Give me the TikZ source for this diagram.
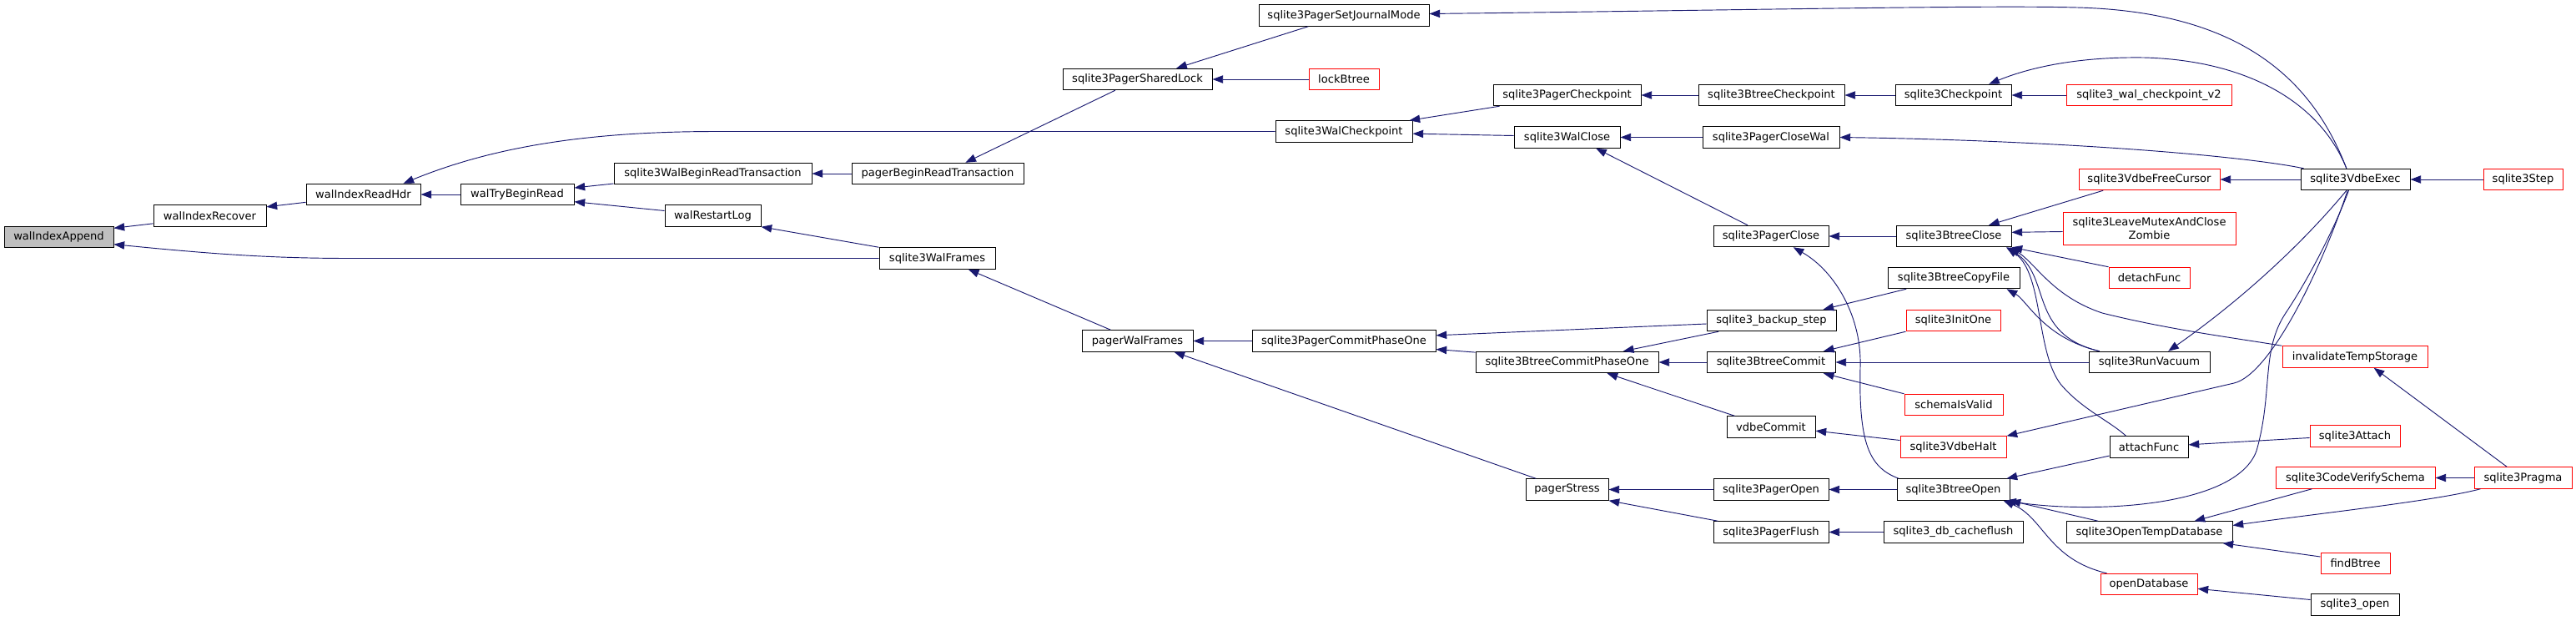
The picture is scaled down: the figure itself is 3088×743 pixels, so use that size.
\documentclass[tikz,border=0pt]{standalone}
\usepackage{fontspec}
\usepackage{xcolor}
\usetikzlibrary{arrows.meta}
\newfontfamily\dvs{DejaVu Sans}
\definecolor{edgeblue}{HTML}{191970}
\definecolor{rootgray}{HTML}{BFBFBF}

\begin{document}
\begin{tikzpicture}[x=0.75pt, y=-0.75pt,
    fn/.style={draw=black, fill=white, line width=0.75pt, minimum height=19.1pt,
               inner sep=0pt, align=center, font=\dvs\fontsize{9.8}{11.5}\selectfont},
    fnred/.style={fn, draw=red},
    fnroot/.style={fn, fill=rootgray},
    callby/.style={<-, draw=edgeblue, line width=0.7pt},
    >={Triangle[length=9.5pt, width=7pt]}]
    \useasboundingbox (0,0) rectangle (3088,743);

    % Functions, one column after the other
    \node[fnroot, minimum width=98.25pt] (wIA) at (70.5,284) {walIndexAppend};
    \node[fn, minimum width=101.25pt] (wIRc) at (251.5,258.5) {walIndexRecover};
    \node[fn, minimum width=102.75pt] (wIRH) at (435.5,233) {walIndexReadHdr};
    \node[fn, minimum width=102pt] (wTBR) at (620,233) {walTryBeginRead};
    \node[fn, minimum width=177.75pt] (sWBRT) at (854.5,208) {sqlite3WalBeginReadTransaction};
    \node[fn, minimum width=86.25pt] (wRL) at (854.5,258.5) {walRestartLog};
    \node[fn, minimum width=154.5pt] (pBRT) at (1124,208) {pagerBeginReadTransaction};
    \node[fn, minimum width=104.25pt] (sWF) at (1123.5,309.5) {sqlite3WalFrames};
    \node[fn, minimum width=134.25pt] (sPSL) at (1363.5,95) {sqlite3PagerSharedLock};
    \node[fn, minimum width=99.75pt] (pWF) at (1363.5,408.5) {pagerWalFrames};
    \node[fn, minimum width=153pt] (sPSJM) at (1611,18.5) {sqlite3PagerSetJournalMode};
    \node[fnred, minimum width=63pt] (lockBtree) at (1611,95) {lockBtree};
    \node[fn, minimum width=123pt] (sWC) at (1611,157.5) {sqlite3WalCheckpoint};
    \node[fn, minimum width=165pt] (sPCPO) at (1611,408.5) {sqlite3PagerCommitPhaseOne};
    \node[fn, minimum width=132.75pt] (sPC) at (1878.5,114) {sqlite3PagerCheckpoint};
    \node[fn, minimum width=95.25pt] (sWCl) at (1878.5,164.5) {sqlite3WalClose};
    \node[fn, minimum width=164.25pt] (sBCPO) at (1878.5,434) {sqlite3BtreeCommitPhaseOne};
    \node[fn, minimum width=74.25pt] (pagerStress) at (1878.5,586.5) {pagerStress};
    \node[fn, minimum width=131.25pt] (sBC) at (2123.5,114) {sqlite3BtreeCheckpoint};
    \node[fn, minimum width=123pt] (sPCW) at (2123,164.5) {sqlite3PagerCloseWal};
    \node[fn, minimum width=103.5pt] (sPCl) at (2123,283) {sqlite3PagerClose};
    \node[fn, minimum width=116.25pt] (sbs) at (2123.5,384) {sqlite3\_backup\_step};
    \node[fn, minimum width=115.5pt] (sBCm) at (2123,434) {sqlite3BtreeCommit};
    \node[fn, minimum width=79.5pt] (vdbeCommit) at (2123,511.5) {vdbeCommit};
    \node[fn, minimum width=103.5pt] (sPO) at (2123,586.5) {sqlite3PagerOpen};
    \node[fn, minimum width=103.5pt] (sPF) at (2123,637.5) {sqlite3PagerFlush};
    \node[fn, minimum width=104.25pt] (sCk) at (2341.5,114) {sqlite3Checkpoint};
    \node[fn, minimum width=103.5pt] (sBCl) at (2342,283) {sqlite3BtreeClose};
    \node[fn, minimum width=118.5pt] (sBCF) at (2342,333) {sqlite3BtreeCopyFile};
    \node[fnred, minimum width=84.75pt] (sInitOne) at (2341.5,384) {sqlite3InitOne};
    \node[fnred, minimum width=88.5pt] (schemaIsValid) at (2342,485) {schemaIsValid};
    \node[fnred, minimum width=95.25pt] (sVH) at (2341.5,535.5) {sqlite3VdbeHalt};
    \node[fn, minimum width=101.25pt] (sBO) at (2341.5,586.5) {sqlite3BtreeOpen};
    \node[fn, minimum width=125.25pt] (sdc) at (2341.5,637.5) {sqlite3\_db\_cacheflush};
    \node[fnred, minimum width=148.5pt] (swcv2) at (2576,114) {sqlite3\_wal\_checkpoint\_v2};
    \node[fnred, minimum width=126.75pt] (sVFC) at (2576.5,215) {sqlite3VdbeFreeCursor};
    \node[fnred, minimum width=155.25pt, minimum height=29.25pt] (sLMACZ) at (2576.5,273.5) {sqlite3LeaveMutexAndClose\\Zombie};
    \node[fnred, minimum width=72.75pt] (detachFunc) at (2576.5,333) {detachFunc};
    \node[fn, minimum width=108.75pt] (sRV) at (2576.5,434) {sqlite3RunVacuum};
    \node[fn, minimum width=70.5pt] (attachFunc) at (2576,535.5) {attachFunc};
    \node[fn, minimum width=149.25pt] (sOTD) at (2576.5,637.5) {sqlite3OpenTempDatabase};
    \node[fnred, minimum width=87pt] (oDB) at (2576,700) {openDatabase};
    \node[fn, minimum width=98.25pt] (sVE) at (2823.5,215) {sqlite3VdbeExec};
    \node[fnred, minimum width=130.5pt] (iTS) at (2823,427.5) {invalidateTempStorage};
    \node[fnred, minimum width=81pt] (sAt) at (2823,522.5) {sqlite3Attach};
    \node[fnred, minimum width=143.25pt] (sCVS) at (2823.5,572.5) {sqlite3CodeVerifySchema};
    \node[fnred, minimum width=62.25pt] (findBtree) at (2823.5,675) {findBtree};
    \node[fn, minimum width=79.5pt] (so) at (2823,724.5) {sqlite3\_open};
    \node[fnred, minimum width=71.25pt] (sStep) at (3024.5,215) {sqlite3Step};
    \node[fnred, minimum width=87.75pt] (sPragma) at (3024.5,572.5) {sqlite3Pragma};

    % Straight calls on one row
    \foreach \a/\b in {wIRH/wTBR, sWBRT/pBRT, sPSL/lockBtree, pWF/sPCPO, sPC/sBC, sWCl/sPCW,
                       sBC/sCk, sCk/swcv2, sPCl/sBCl, sBCPO/sBCm, pagerStress/sPO, sPO/sBO,
                       sPF/sdc, sBCm/sRV, sVFC/sVE, sVE/sStep, sCVS/sPragma}
        \draw[callby] (\a.east) -- (\b.west);

    % Calls between rows
    \draw[callby] ([yshift=8pt]wIA.east) -- ([yshift=-7pt]wIRc.west);
    \draw[callby] ([yshift=-6.5pt]wIA.east) .. controls (260,305) and (330,309.5) .. (420,309.5) -- (sWF.west);
    \draw[callby] ([yshift=8pt]wIRc.east) -- ([yshift=-7pt]wIRH.west);
    \draw[callby] ([xshift=36pt]wIRH.north) .. controls (600,172) and (720,157.5) .. (860,157.5) -- (sWC.west);
    \draw[callby] ([yshift=6pt]wTBR.east) -- ([yshift=-9pt]sWBRT.west);
    \draw[callby] ([yshift=-6.5pt]wTBR.east) -- ([yshift=4.5pt]wRL.west);
    \draw[callby] (wRL.south east) -- (sWF.north west);
    \draw[callby] ([xshift=25pt]pBRT.north) -- ([xshift=-20pt]sPSL.south);
    \draw[callby] ([xshift=28pt]sWF.south) -- ([xshift=-24pt]pWF.north);
    \draw[callby] ([xshift=35pt]sPSL.north) -- ([xshift=-32pt]sPSJM.south);
    \draw[callby] ([xshift=-3pt]sWC.north east) -- ([xshift=6pt]sPC.south west);
    \draw[callby] ([yshift=-2pt]sWC.east) -- ([yshift=1.5pt]sWCl.west);
    \draw[callby] ([xshift=26pt]sWCl.south) -- ([xshift=-21pt]sPCl.north);
    \draw[callby] ([xshift=33pt]pWF.south) -- ([xshift=-28pt]pagerStress.north);
    \draw[callby] ([yshift=5pt]sPCPO.east) -- ([yshift=-3pt]sbs.west);
    \draw[callby] ([yshift=-7.5pt]sPCPO.east) -- ([yshift=-1pt]sBCPO.north west);
    \draw[callby] ([xshift=50.5pt]sBCPO.north) -- ([xshift=11pt]sbs.south west);
    \draw[callby] ([xshift=36pt]sBCPO.south) -- ([xshift=7.5pt]vdbeCommit.north west);
    \draw[callby] (pagerStress.south east) -- ([xshift=4.5pt]sPF.north west);
    \draw[callby] ([xshift=20pt]sPCl.south) .. controls (2200,325) and (2232,380) .. (2230,440)
        .. controls (2228,530) and (2240,560) .. ([xshift=2pt]sBO.north west);
    \draw[callby] ([xshift=-12pt]sbs.north east) -- ([xshift=17pt]sBCF.south west);
    \draw[callby] ([xshift=-11pt]sBCm.north east) -- (sInitOne.south west);
    \draw[callby] ([xshift=-11pt]sBCm.south east) -- (schemaIsValid.north west);
    \draw[callby] ([yshift=-3.5pt]vdbeCommit.east) -- ([yshift=6pt]sVH.west);
    \draw[callby] ([xshift=31.5pt]sBCl.north) -- ([xshift=-41.5pt]sVFC.south);
    \draw[callby] ([yshift=3.5pt]sBCl.east) -- ([yshift=-3pt]sLMACZ.west);
    \draw[callby] (sBCl.south east) -- (detachFunc.north west);
    \draw[callby] ([xshift=-2pt]sBCl.south east) .. controls (2440,315) and (2460,355) .. (2520,375)
        .. controls (2600,395) and (2680,405) .. (iTS.north west);
    \draw[callby] ([xshift=-5pt]sBCl.south east) .. controls (2460,330) and (2430,400) .. ([xshift=10pt]sRV.north west);
    \draw[callby] ([xshift=-4pt]sBCl.south east) .. controls (2450,330) and (2440,420) .. (2470,460)
        .. controls (2495,490) and (2530,505) .. ([xshift=15pt]attachFunc.north west);
    \draw[callby] ([xshift=-12pt]sBCF.south east) .. controls (2430,360) and (2450,405) .. ([xshift=10pt]sRV.north west);
    \draw[callby] ([yshift=2pt]attachFunc.east) -- ([yshift=-1.5pt]sAt.west);
    \draw[callby] ([xshift=-3pt]sBO.north east) -- ([yshift=2pt]attachFunc.south west);
    \draw[callby] (sBO.south east) -- ([xshift=29pt]sOTD.north west);
    \draw[callby] ([xshift=-6pt]sBO.south east) .. controls (2450,620) and (2455,670) .. ([xshift=6pt]oDB.north west);
    \draw[callby] ([yshift=-4pt]oDB.east) -- ([yshift=4.5pt]so.west);
    \draw[callby] ([xshift=40.5pt]sOTD.north) -- ([xshift=33pt]sCVS.south west);
    \draw[callby] ([yshift=6pt]sOTD.east) .. controls (2780,615) and (2920,600) .. ([xshift=6pt]sPragma.south west);
    \draw[callby] ([xshift=-9pt]sOTD.south east) -- ([yshift=6pt]findBtree.west);
    \draw[callby] ([xshift=17pt]iTS.south) -- ([xshift=-14.5pt]sPragma.north);

    % Calls from sqlite3VdbeExec
    \draw[callby] ([yshift=1.5pt]sPSJM.east) .. controls (2100,12) and (2380,6) .. (2490,9)
        .. controls (2680,14) and (2770,90) .. ([xshift=-8pt]sVE.north);
    \draw[callby] ([xshift=32pt]sCk.north) .. controls (2440,78) and (2500,68) .. (2570,69)
        .. controls (2690,72) and (2780,120) .. ([xshift=-8pt]sVE.north);
    \draw[callby] (sPCW.east) .. controls (2450,168) and (2680,185) .. ([xshift=3pt]sVE.north west);
    \draw[callby] ([xshift=17pt]sRV.north) .. controls (2700,350) and (2770,280) .. ([xshift=-8pt]sVE.south);
    \draw[callby] (sVH.north east) -- (2678,459) .. controls (2720,449) and (2780,330) .. ([xshift=-7pt]sVE.south);
    \draw[callby] ([xshift=-4pt]sBO.south east) .. controls (2500,615) and (2680,610) .. (2705,540)
        .. controls (2725,470) and (2710,420) .. (2740,375)
        .. controls (2770,330) and (2800,270) .. ([xshift=-6pt]sVE.south);
\end{tikzpicture}
\end{document}
